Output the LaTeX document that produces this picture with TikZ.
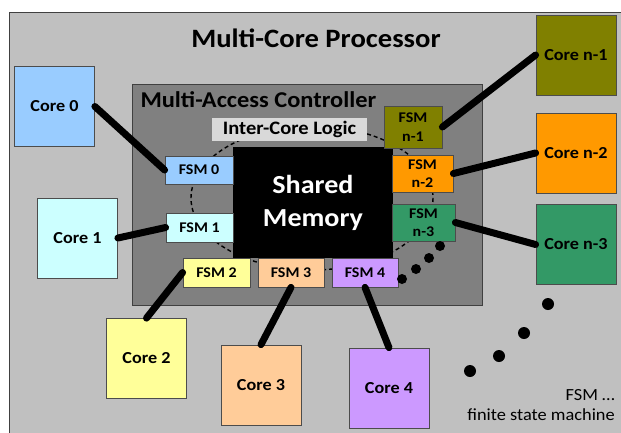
\documentclass[tikz,border=0pt]{standalone}
\usepackage{fontspec}
\setmainfont{Carlito}[FakeStretch=1.08]
\begin{document}
\begin{tikzpicture}[x=1pt,y=-1pt,
  box/.style={draw=black!70,line width=0.8pt,inner sep=0pt,align=center,
    font=\bfseries\fontsize{16.8}{19}\selectfont},
  core/.style={box,minimum width=80pt,minimum height=80pt},
  fsm/.style={box,font=\bfseries\fontsize{14.8}{18.5}\selectfont},
  wire/.style={line width=7pt,line cap=round},
  ring/.style={line width=1.4pt,dash pattern=on 4pt off 3pt},
  dot/.style={fill=black}]
\definecolor{outerbg}{HTML}{C0C0C0}
\definecolor{ctrlbg}{HTML}{808080}
\definecolor{logicbg}{HTML}{D9D9D9}
\definecolor{cA}{HTML}{99CCFF}
\definecolor{cB}{HTML}{CCFFFF}
\definecolor{cC}{HTML}{FFFF99}
\definecolor{cD}{HTML}{FFCC99}
\definecolor{cE}{HTML}{CC99FF}
\definecolor{cN1}{HTML}{808000}
\definecolor{cN2}{HTML}{FF9900}
\definecolor{cN3}{HTML}{339966}

\useasboundingbox (0,0) rectangle (621,432);
\clip (0,0) rectangle (621,432);
\fill[white] (0,0) rectangle (621,432);

% processor frame
\draw[fill=outerbg,draw=black!75,line width=1pt] (9,12) rectangle (640,450);
\node[font=\bfseries\fontsize{26.5}{30}\selectfont] (title) at (316,38) {Multi-Core Processor};

% controller
\draw[fill=ctrlbg,draw=black!75,line width=1pt] (132,84) rectangle (482,305);
\node[anchor=west,font=\bfseries\fontsize{22.6}{24}\selectfont] (ctrl) at (137,100) {Multi-Access Controller};

% inter-core ring
\draw[ring] (312,198) ellipse [x radius=121,y radius=72];

% shared memory and logic
\node[fill=black,text=white,inner sep=0pt,minimum width=160pt,minimum height=111pt,
  align=center,font=\bfseries\fontsize{26}{33}\selectfont] (mem) at (313,202.5) {Shared\\Memory};
\node[fill=logicbg,inner sep=0pt,minimum width=155pt,minimum height=23pt,
  font=\bfseries\fontsize{19}{20}\selectfont] (logic) at (289.5,129.5) {Inter-Core Logic};

% state machines
\node[fsm,fill=cA,minimum width=68pt,minimum height=28pt] (f0) at (199,170) {FSM 0};
\node[fsm,fill=cB,minimum width=67pt,minimum height=29pt] (f1) at (199.5,227.5) {FSM 1};
\node[fsm,fill=cC,minimum width=67pt,minimum height=29pt] (f2) at (216.5,272.5) {FSM 2};
\node[fsm,fill=cD,minimum width=66pt,minimum height=29pt] (f3) at (291,272.5) {FSM 3};
\node[fsm,fill=cE,minimum width=66pt,minimum height=29pt] (f4) at (365,272.5) {FSM 4};
\node[fsm,fill=cN1,minimum width=58pt,minimum height=42pt] (fn1) at (413,127) {FSM\\n-1};
\node[fsm,fill=cN2,minimum width=61pt,minimum height=37pt] (fn2) at (422.5,173.5) {FSM\\n-2};
\node[fsm,fill=cN3,minimum width=63pt,minimum height=37pt] (fn3) at (423.5,222.5) {FSM\\n-3};

% ellipsis dots
\foreach \p in {(402,279),(416,269),(429,258),(440,246)} \fill[dot] \p circle (5);
\foreach \p in {(548,304),(524,333),(499,356),(470,371)} \fill[dot] \p circle (6);

% cores
\node[core,fill=cA] (c0) at (54.5,106.5) {Core 0};
\node[core,fill=cB] (c1) at (77.5,238) {Core 1};
\node[core,fill=cC] (c2) at (146.5,358.5) {Core 2};
\node[core,fill=cD] (c3) at (261,385) {Core 3};
\node[core,fill=cE] (c4) at (389,388) {Core 4};
\node[core,fill=cN1] (cn1) at (576,55) {Core n-1};
\node[core,fill=cN2] (cn2) at (576,153) {Core n-2};
\node[core,fill=cN3] (cn3) at (576,244.5) {Core n-3};

% links
\draw[wire] (c0.east) -- (f0.west);
\draw[wire] (c1.east) -- (f1.west);
\draw[wire] (c2.north) -- (f2.west);
\draw[wire] (c3.north) -- (f3.south);
\draw[wire] (c4.north) -- (f4.south);
\draw[wire] (cn1.west) -- (fn1.east);
\draw[wire] (cn2.west) -- (fn2.east);
\draw[wire] (cn3.west) -- (fn3.east);

% legend
\node[anchor=north east,align=right,inner sep=0pt,font=\fontsize{17}{20}\selectfont] (legend) at (615,389) {FSM \dots\\finite state machine};
\end{tikzpicture}
\end{document}
